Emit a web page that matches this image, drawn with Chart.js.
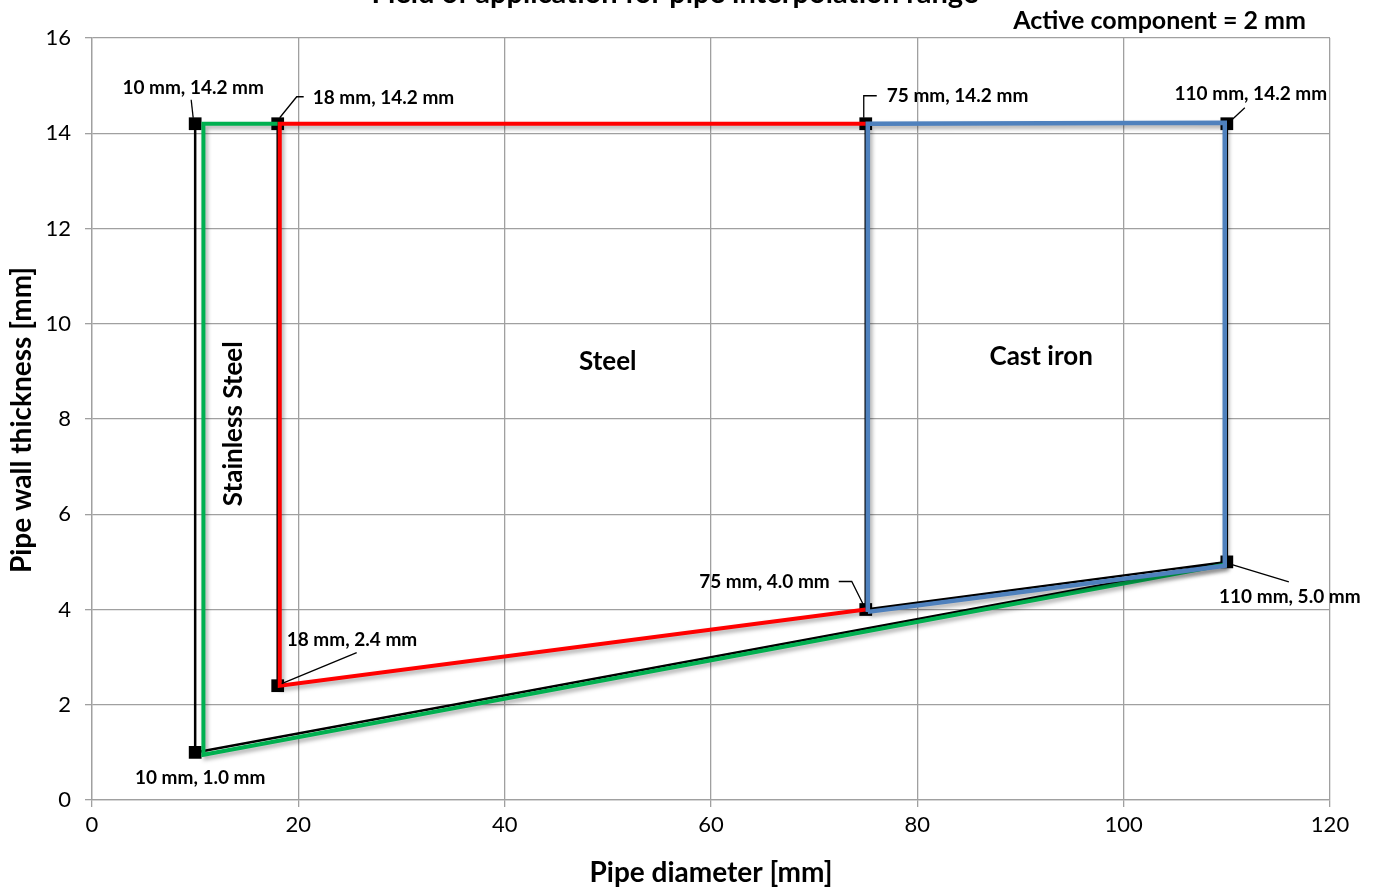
<!DOCTYPE html>
<html>
<head>
<meta charset="utf-8">
<script src="https://cdn.jsdelivr.net/npm/chart.js@4"></script>
<style>
html,body{margin:0;padding:0;background:#fff;}
#wrap{width:1376px;height:887px;position:relative;}
</style>
</head>
<body>
<div id="wrap"><canvas id="c" width="1376" height="887"></canvas></div>
<script>
// ---- data ----
const xTicks = [0, 20, 40, 60, 80, 100, 120];
const yTicks = [0, 2, 4, 6, 8, 10, 12, 14, 16];

const cornerX = [10, 18, 75, 110, 110, 75, 18, 10];
const cornerY = [14.2, 14.2, 14.2, 14.2, 5.0, 4.0, 2.4, 1.0];
const cornerLabels = ["10 mm, 14.2 mm", "18 mm, 14.2 mm", "75 mm, 14.2 mm", "110 mm, 14.2 mm",
                      "110 mm, 5.0 mm", "75 mm, 4.0 mm", "18 mm, 2.4 mm", "10 mm, 1.0 mm"];

const outlineX = [10, 10, 110, 110];
const outlineY = [14.2, 1.0, 5.0, 14.2];
const inner18X = [18, 18];
const inner18Y = [14.2, 2.4];
const inner75X = [75, 75, 110];
const inner75Y = [14.2, 4.0, 5.0];

const stainlessX = [18, 10.8, 10.8, 110];
const stainlessY = [14.2, 14.2, 0.95, 4.95];
const steelX = [75, 18.2, 18.2, 75];
const steelY = [14.2, 14.2, 2.4, 4.0];
const castIronX = [75.2, 75.2, 109.8, 109.8, 75.2];
const castIronY = [3.95, 14.2, 14.22, 4.92, 3.95];

const regionNames = ["Stainless Steel", "Steel", "Cast iron"];
const regionX = [14.5, 50, 92];
const regionY = [7.9, 9.2, 9.3];

const pts = (xs, ys) => xs.map((x, i) => ({x: x, y: ys[i]}));

const FONT = "Lato, 'Open Sans', 'DejaVu Sans', sans-serif";

// label placement (pixel offsets from the corner point): text anchor + leader polyline
const labelStyle = [
  {tx: -2, ty: -36, align: 'center', lead: [[-2,-6],[-4,-24]]},
  {tx: 35, ty: -26, align: 'left', lead: [[2,-6],[19,-27],[26,-27]]},
  {tx: 21, ty: -28, align: 'left', lead: [[-2,-6],[-2,-28],[11,-28]]},
  {tx: 24, ty: -30, align: 'center', lead: [[4,-3],[18,-16]]},
  {tx: 63, ty: 35, align: 'center', lead: [[6,3],[62,20]]},
  {tx: -36, ty: -28, align: 'right', lead: [[-2,-4],[-14,-28],[-27,-28]]},
  {tx: 9, ty: -46, align: 'left', lead: [[4,-2],[79,-33]]},
  {tx: 5, ty: 25, align: 'center', lead: []}
];

const shadowPlugin = {
  id: 'shadow',
  beforeDatasetDraw(chart, args) {
    const ds = chart.data.datasets[args.index];
    if (ds._shadow) {
      chart.ctx.save();
      chart.ctx.shadowColor = 'rgba(0,0,0,0.35)';
      chart.ctx.shadowBlur = 4;
      chart.ctx.shadowOffsetX = 2;
      chart.ctx.shadowOffsetY = 3;
    }
  },
  afterDatasetDraw(chart, args) {
    const ds = chart.data.datasets[args.index];
    if (ds._shadow) chart.ctx.restore();
  }
};

const textPlugin = {
  id: 'texts',
  afterDraw(chart) {
    const ctx = chart.ctx;
    const xs = chart.scales.x, ys = chart.scales.y;
    ctx.save();
    ctx.fillStyle = '#000';
    // title (cut off at top)
    ctx.font = "bold 29px " + FONT;
    ctx.textAlign = 'center';
    ctx.textBaseline = 'alphabetic';
    ctx.fillText("Field of application for pipe interpolation range", 675, 3);
    ctx.font = "bold 25px " + FONT;
    ctx.textAlign = 'right';
    ctx.fillText("Active component = 2 mm", 1306, 29);
    // axis titles
    ctx.font = "bold 28px " + FONT;
    ctx.textAlign = 'center';
    ctx.textBaseline = 'middle';
    ctx.fillText("Pipe diameter [mm]", 711, 873);
    ctx.save();
    ctx.translate(22, 420);
    ctx.rotate(-Math.PI / 2);
    ctx.fillText("Pipe wall thickness [mm]", 0, 0);
    ctx.restore();
    // region names
    ctx.font = "bold 26px " + FONT;
    regionNames.forEach((n, i) => {
      const px = xs.getPixelForValue(regionX[i]);
      const py = ys.getPixelForValue(regionY[i]);
      if (i === 0) {
        ctx.save();
        ctx.translate(px - 8, py);
        ctx.rotate(-Math.PI / 2);
        ctx.fillText(n, 0, 0);
        ctx.restore();
      } else {
        ctx.fillText(n, px, py);
      }
    });
    // corner labels
    ctx.font = "bold 19px " + FONT;
    ctx.strokeStyle = '#000';
    ctx.lineWidth = 1.3;
    cornerLabels.forEach((t, i) => {
      const px = xs.getPixelForValue(cornerX[i]);
      const py = ys.getPixelForValue(cornerY[i]);
      const s = labelStyle[i];
      if (s.lead.length) {
        ctx.beginPath();
        s.lead.forEach((p, k) => {
          if (k === 0) ctx.moveTo(px + p[0], py + p[1]);
          else ctx.lineTo(px + p[0], py + p[1]);
        });
        ctx.stroke();
      }
      ctx.textAlign = s.align;
      ctx.textBaseline = 'middle';
      ctx.fillText(t, px + s.tx, py + s.ty);
    });
    ctx.restore();
  }
};

const lineDs = (label, data, color, width, order, shadow) => ({
  label, data, showLine: true, borderColor: color, backgroundColor: color,
  borderWidth: width, pointRadius: 0, pointHoverRadius: 0, fill: false,
  tension: 0, order, _shadow: shadow, borderJoinStyle: 'miter', borderCapStyle: 'butt'
});

new Chart(document.getElementById('c'), {
  type: 'scatter',
  data: {
    datasets: [
      lineDs('Outline', pts(outlineX, outlineY), '#000000', 2.5, 10, false),
      lineDs('Inner 18', pts(inner18X, inner18Y), '#000000', 2.5, 9, false),
      lineDs('Inner 75', pts(inner75X, inner75Y), '#000000', 2.5, 8, false),
      {
        label: 'Corners', data: pts(cornerX, cornerY), showLine: false,
        pointStyle: 'rect', pointRadius: 9, backgroundColor: '#000', borderColor: '#000',
        borderWidth: 0, order: 7
      },
      lineDs('Stainless Steel', pts(stainlessX, stainlessY), '#00B050', 4, 4, true),
      lineDs('Steel', pts(steelX, steelY), '#FF0000', 4, 3, true),
      lineDs('Cast iron', pts(castIronX, castIronY), '#4F81BD', 4.5, 2, true)
    ]
  },
  options: {
    responsive: false,
    animation: false,
    events: [],
    layout: {padding: {top: 38, right: 46, left: 0, bottom: 0}},
    plugins: {legend: {display: false}, tooltip: {enabled: false}, title: {display: false}},
    scales: {
      x: {
        type: 'linear', min: 0, max: 120,
        afterBuildTicks: s => { s.ticks = xTicks.map(v => ({value: v})); },
        afterFit: s => { s.height = 87; },
        grid: {color: '#a0a0a0', lineWidth: 1.3, tickLength: 7, drawTicks: true},
        border: {color: '#a0a0a0', width: 1.3},
        ticks: {color: '#000', font: {family: FONT, size: 22}, padding: 5, maxRotation: 0}
      },
      y: {
        type: 'linear', min: 0, max: 16,
        afterBuildTicks: s => { s.ticks = yTicks.map(v => ({value: v})); },
        afterFit: s => { s.width = 92; },
        grid: {color: '#a0a0a0', lineWidth: 1.3, tickLength: 7, drawTicks: true},
        border: {color: '#a0a0a0', width: 1.3},
        ticks: {color: '#000', font: {family: FONT, size: 22}, padding: 14}
      }
    }
  },
  plugins: [shadowPlugin, textPlugin]
});
</script>
</body>
</html>
